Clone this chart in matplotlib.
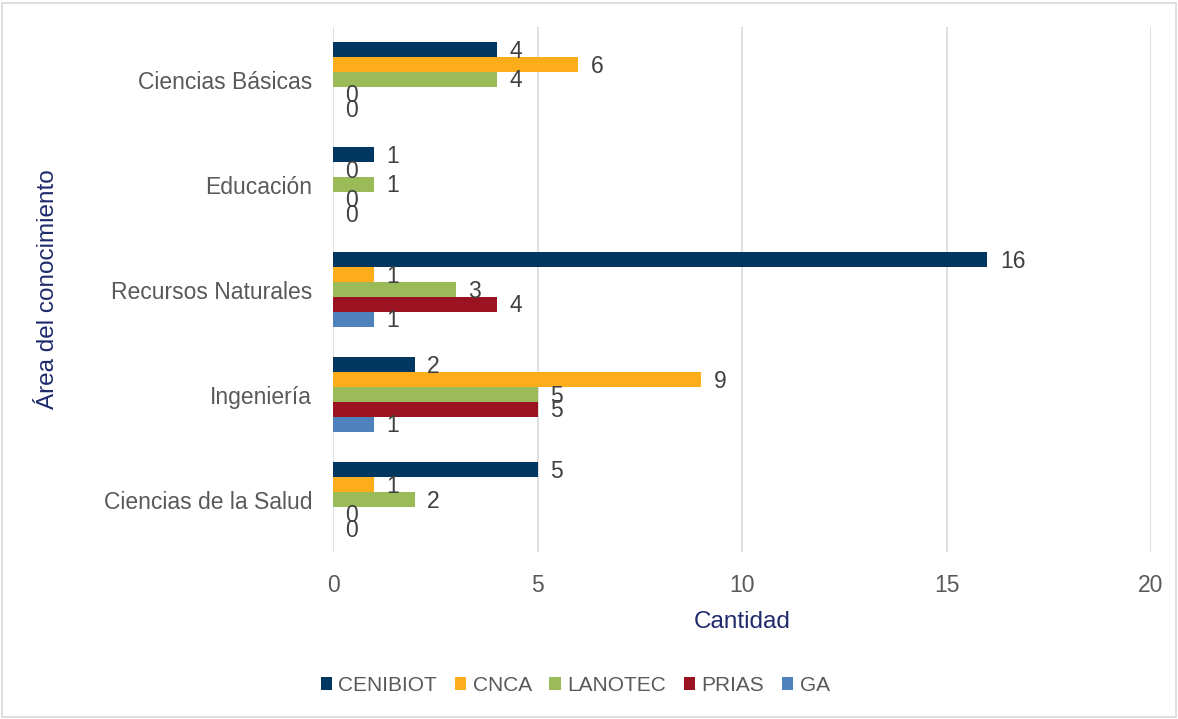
import matplotlib.pyplot as plt
import numpy as np
from matplotlib.patches import Rectangle

plt.rcParams['font.family'] = ['Arial', 'Liberation Sans', 'DejaVu Sans']

# data, top to bottom as in the chart
areas = ["Ciencias Básicas", "Educación", "Recursos Naturales", "Ingeniería", "Ciencias de la Salud"]
series = ["CENIBIOT", "CNCA", "LANOTEC", "PRIAS", "GA"]
cenibiot = [4, 1, 16, 2, 5]
cnca = [6, 0, 1, 9, 1]
lanotec = [4, 1, 3, 5, 2]
prias = [0, 0, 4, 5, 0]
ga = [0, 0, 1, 1, 0]
colors = ["#003761", "#FDAD19", "#9BBB59", "#9B1321", "#4F81BD"]

values = [cenibiot, cnca, lanotec, prias, ga]

fig = plt.figure(figsize=(11.78, 7.19), dpi=100)
ax = fig.add_axes([0.2827, 0.232, 0.6944, 0.7304])

n = len(areas)
y = np.arange(n)[::-1]  # first area on top
h = 0.142
for i, (name, vals, c) in enumerate(zip(series, values, colors)):
    pos = y + (2 - i) * h
    bars = ax.barh(pos, vals, height=h, color=c, label=name, zorder=3)
    for yy, v in zip(pos, vals):
        ax.annotate(str(v), (v, yy), xytext=(9, -1), textcoords="offset points",
                    ha="left", va="center", fontsize=16.5, color="#404040", zorder=4)

ax.set_xlim(0, 20)
ax.set_ylim(-0.5, n - 0.5)
ax.set_xticks([0, 5, 10, 15, 20])
ax.set_yticks(y)
ax.set_yticklabels(areas)
ax.tick_params(axis="both", length=0, labelsize=16.5, labelcolor="#595959")
ax.tick_params(axis="y", pad=15)
ax.tick_params(axis="x", pad=16)
ax.grid(axis="x", color="#D9D9D9", linewidth=1.2, zorder=0)
for s in ax.spines.values():
    s.set_visible(False)

ax.set_xlabel("Cantidad", fontsize=17.5, color="#1F2A6B", labelpad=10)
ax.set_ylabel("Área del conocimiento", fontsize=17.5, color="#1F2A6B", labelpad=32)

ax.legend(loc="upper center", bbox_to_anchor=(0.296, -0.2), ncol=5, frameon=False,
          fontsize=15, handlelength=0.55, handleheight=0.55, columnspacing=0.85,
          handletextpad=0.3, labelcolor="#595959")

fig.patches.append(Rectangle((0.002, 0.003), 0.996, 0.993, transform=fig.transFigure,
                             fill=False, edgecolor="#D9D9D9", linewidth=1.2))

fig.savefig("out.png", dpi=100)
